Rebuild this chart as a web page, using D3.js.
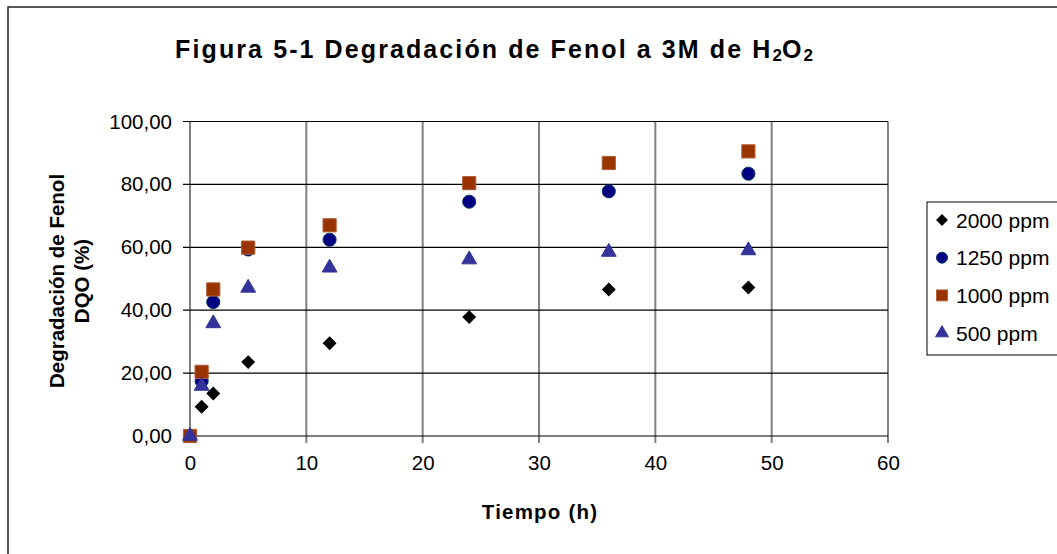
<!DOCTYPE html>
<html lang="es">
<head>
<meta charset="UTF-8">
<title>Figura 5-1</title>
<script src="https://cdn.jsdelivr.net/npm/d3@7"></script>
<style>
    body { margin: 0; background: #fff; }
    svg text { font-family: "Liberation Sans", Arial, sans-serif; fill: #000; }
    .tick text { font-size: 20.5px; }
    .ttl { font-size: 25px; font-weight: bold; letter-spacing: 2.1px; }
    .lbl { font-size: 20.5px; font-weight: bold; }
    .leg { font-size: 21px; }
</style>
</head>
<body>
<svg width="1057" height="554"></svg>
<script>
// tiempo (h) y degradación (%) por serie
var tiempo = [0, 1, 2, 5, 12, 24, 36, 48];
var s2000 = [0, 9.3, 13.5, 23.5, 29.5, 37.8, 46.6, 47.2];
var s1250 = [0, 17.5, 42.6, 59.3, 62.4, 74.5, 77.8, 83.4];
var s1000 = [0, 20.4, 46.6, 59.9, 67.0, 80.4, 86.8, 90.5];
var s500 = [0, 15.9, 35.8, 47.1, 53.5, 56.1, 58.5, 59.0];
var nombres = ["2000 ppm", "1250 ppm", "1000 ppm", "500 ppm"];
var xTicks = [0, 10, 20, 30, 40, 50, 60];
var yTicks = [0, 20, 40, 60, 80, 100];

var series = [
    {name: nombres[0], vals: s2000, sym: "diamond", fill: "#000000", stroke: "#000000"},
    {name: nombres[1], vals: s1250, sym: "circle", fill: "#000080", stroke: "#003366"},
    {name: nombres[2], vals: s1000, sym: "square", fill: "#993300", stroke: "#b0603a"},
    {name: nombres[3], vals: s500, sym: "triangle", fill: "#333399", stroke: "#333399"}
];

var svg = d3.select("svg");

// marco exterior
svg.append("rect")
    .attr("x", 8).attr("y", 7)
    .attr("width", 1060).attr("height", 560)
    .attr("fill", "none").attr("stroke", "#222").attr("stroke-width", 1.5);

var L = 190, R = 888, T = 121.5, B = 436;
var x = d3.scaleLinear().domain([0, 60]).range([L, R]);
var y = d3.scaleLinear().domain([0, 100]).range([B, T]);

// rejilla vertical (gris) + marcas
svg.append("g").selectAll("line").data(xTicks).enter().append("line")
    .attr("x1", function (d) { return x(d); }).attr("x2", function (d) { return x(d); })
    .attr("y1", T).attr("y2", B + 7)
    .attr("stroke", "#808080").attr("stroke-width", 2);

// rejilla horizontal (negra) + marcas
svg.append("g").selectAll("line").data(yTicks).enter().append("line")
    .attr("x1", L - 7).attr("x2", R)
    .attr("y1", function (d) { return y(d); }).attr("y2", function (d) { return y(d); })
    .attr("stroke", "#000").attr("stroke-width", 1.2);

var fmt = function (d) { return d3.format(".2f")(d).replace(".", ","); };

var ax = svg.append("g").attr("transform", "translate(0," + B + ")")
    .call(d3.axisBottom(x).tickValues(xTicks).tickSize(0).tickPadding(19));
ax.select(".domain").remove();

var ay = svg.append("g").attr("transform", "translate(" + L + ",0)")
    .call(d3.axisLeft(y).tickValues(yTicks).tickFormat(fmt).tickSize(0).tickPadding(18));
ay.select(".domain").remove();
svg.selectAll(".tick text").attr("fill", "#000");

// símbolos
function symPath(s, size) {
    var t = {diamond: d3.symbolSquare, circle: d3.symbolCircle, square: d3.symbolSquare, triangle: d3.symbolTriangle}[s];
    return d3.symbol().type(t).size(size)();
}
var sizes = {diamond: 78, circle: 135, square: 175, triangle: 95};
var legSizes = {diamond: 55, circle: 95, square: 120, triangle: 72};

series.forEach(function (s) {
    svg.append("g").selectAll("path").data(s.vals).enter().append("path")
        .attr("d", symPath(s.sym, sizes[s.sym]))
        .attr("transform", function (d, i) {
            return "translate(" + x(tiempo[i]) + "," + y(d) + ")" + (s.sym === "diamond" ? " rotate(45)" : "");
        })
        .attr("fill", s.fill).attr("stroke", s.stroke).attr("stroke-width", 1);
});

// leyenda
var lg = svg.append("g");
lg.append("rect").attr("x", 927).attr("y", 202).attr("width", 140).attr("height", 153)
    .attr("fill", "#fff").attr("stroke", "#000").attr("stroke-width", 1);
series.forEach(function (s, i) {
    var yy = 220 + i * 37.7;
    lg.append("path").attr("d", symPath(s.sym, legSizes[s.sym]))
        .attr("transform", "translate(942," + yy + ")" + (s.sym === "diamond" ? " rotate(45)" : ""))
        .attr("fill", s.fill).attr("stroke", s.stroke);
    lg.append("text").attr("class", "leg").attr("x", 956).attr("y", yy + 7.5).text(s.name);
});

// títulos
var tt = svg.append("text").attr("class", "ttl").attr("x", 494).attr("y", 58).attr("text-anchor", "middle");
tt.append("tspan").text("Figura 5-1 Degradación de Fenol a 3M de H");
tt.append("tspan").attr("font-size", 17).attr("dy", 3).attr("letter-spacing", 0).text("2");
tt.append("tspan").attr("dy", -3).text("O");
tt.append("tspan").attr("font-size", 17).attr("dy", 3).attr("letter-spacing", 0).text("2");

svg.append("text").attr("class", "lbl").attr("x", 540).attr("y", 519)
    .attr("text-anchor", "middle").attr("letter-spacing", 1.2).text("Tiempo (h)");

svg.append("text").attr("class", "lbl").attr("text-anchor", "middle")
    .attr("transform", "translate(64,281) rotate(-90)").text("Degradación de Fenol");
svg.append("text").attr("class", "lbl").attr("text-anchor", "middle")
    .attr("transform", "translate(89,281) rotate(-90)").text("DQO (%)");
</script>
</body>
</html>
